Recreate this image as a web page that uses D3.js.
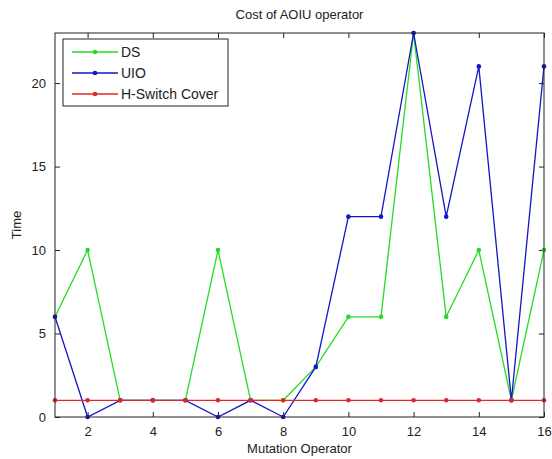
<!DOCTYPE html>
<html lang="en">
<head>
    <meta charset="utf-8">
    <title>Cost of AOIU operator</title>
    <script src="https://d3js.org/d3.v7.min.js"></script>
    <style>
        body { margin: 0; background: #fff; }
        text { font-family: "Liberation Sans", Arial, sans-serif; fill: #222; }
    </style>
</head>
<body>
    <svg id="chart" width="552" height="459"></svg>
    <script>
        // data
        var operators = [1, 2, 3, 4, 5, 6, 7, 8, 9, 10, 11, 12, 13, 14, 15, 16];
        var dsTime = [6, 10, 1, 1, 1, 10, 1, 1, 3, 6, 6, 23, 6, 10, 1, 10];
        var uioTime = [6, 0, 1, 1, 1, 0, 1, 0, 3, 12, 12, 23, 12, 21, 1, 21];
        var hSwitchTime = [1, 1, 1, 1, 1, 1, 1, 1, 1, 1, 1, 1, 1, 1, 1, 1];
        var xTicks = [2, 4, 6, 8, 10, 12, 14, 16];
        var yTicks = [0, 5, 10, 15, 20];

        var series = [
            {name: "DS", values: dsTime, color: "#22dd22"},
            {name: "UIO", values: uioTime, color: "#1515c8"},
            {name: "H-Switch Cover", values: hSwitchTime, color: "#e02828"}
        ];

        var svg = d3.select("#chart"),
            margin = {top: 33, right: 8, bottom: 42, left: 55},
            width = 552 - margin.left - margin.right,
            height = 459 - margin.top - margin.bottom;

        var x = d3.scaleLinear().domain([1, 16]).range([0, width]);
        var y = d3.scaleLinear().domain([0, 23]).range([height, 0]);

        var g = svg.append("g")
            .attr("transform", "translate(" + margin.left + "," + margin.top + ")");

        // axes, ticks pointing inwards like matlab
        g.append("g")
            .attr("transform", "translate(0," + height + ")")
            .call(d3.axisBottom(x).tickValues(xTicks).tickSizeInner(-5).tickSizeOuter(0).tickPadding(10))
            .call(function(a) { a.select(".domain").remove(); });
        g.append("g")
            .call(d3.axisTop(x).tickValues(xTicks).tickSizeInner(-5).tickSizeOuter(0).tickFormat(""))
            .call(function(a) { a.select(".domain").remove(); });
        g.append("g")
            .call(d3.axisLeft(y).tickValues(yTicks).tickSizeInner(-5).tickSizeOuter(0).tickPadding(9))
            .call(function(a) { a.select(".domain").remove(); });
        g.append("g")
            .attr("transform", "translate(" + width + ",0)")
            .call(d3.axisRight(y).tickValues(yTicks).tickSizeInner(-5).tickSizeOuter(0).tickFormat(""))
            .call(function(a) { a.select(".domain").remove(); });

        g.selectAll(".tick text").style("font-size", "13px");
        g.selectAll(".tick line").attr("stroke", "#222");

        var line = d3.line()
            .x(function(d, i) { return x(operators[i]); })
            .y(function(d) { return y(d); });

        series.forEach(function(s) {
            g.append("path")
                .attr("d", line(s.values))
                .attr("fill", "none")
                .attr("stroke", s.color)
                .attr("stroke-width", 1.3);
            g.selectAll(null)
                .data(s.values)
                .enter().append("circle")
                .attr("cx", function(d, i) { return x(operators[i]); })
                .attr("cy", function(d) { return y(d); })
                .attr("r", 2.3)
                .attr("fill", s.color);
        });

        // box
        g.append("rect")
            .attr("width", width)
            .attr("height", height)
            .attr("fill", "none")
            .attr("stroke", "#222");

        // legend
        var legend = g.append("g").attr("transform", "translate(8,6)");
        legend.append("rect")
            .attr("width", 165)
            .attr("height", 67)
            .attr("fill", "#fff")
            .attr("stroke", "#222");
        series.forEach(function(s, i) {
            var row = legend.append("g").attr("transform", "translate(0," + (13 + i * 21) + ")");
            row.append("line")
                .attr("x1", 9).attr("x2", 55)
                .attr("stroke", s.color)
                .attr("stroke-width", 1.3);
            row.append("circle").attr("cx", 32).attr("r", 2.3).attr("fill", s.color);
            row.append("text")
                .attr("x", 58)
                .attr("dy", "0.35em")
                .style("font-size", "14px")
                .text(s.name);
        });

        svg.append("text")
            .attr("x", margin.left + width / 2)
            .attr("y", 19)
            .attr("text-anchor", "middle")
            .style("font-size", "13px")
            .text("Cost of AOIU operator");

        svg.append("text")
            .attr("x", margin.left + width / 2)
            .attr("y", 453)
            .attr("text-anchor", "middle")
            .style("font-size", "13px")
            .text("Mutation Operator");

        svg.append("text")
            .attr("transform", "translate(21," + (margin.top + height / 2) + ") rotate(-90)")
            .attr("text-anchor", "middle")
            .style("font-size", "13px")
            .text("Time");
    </script>
</body>
</html>
